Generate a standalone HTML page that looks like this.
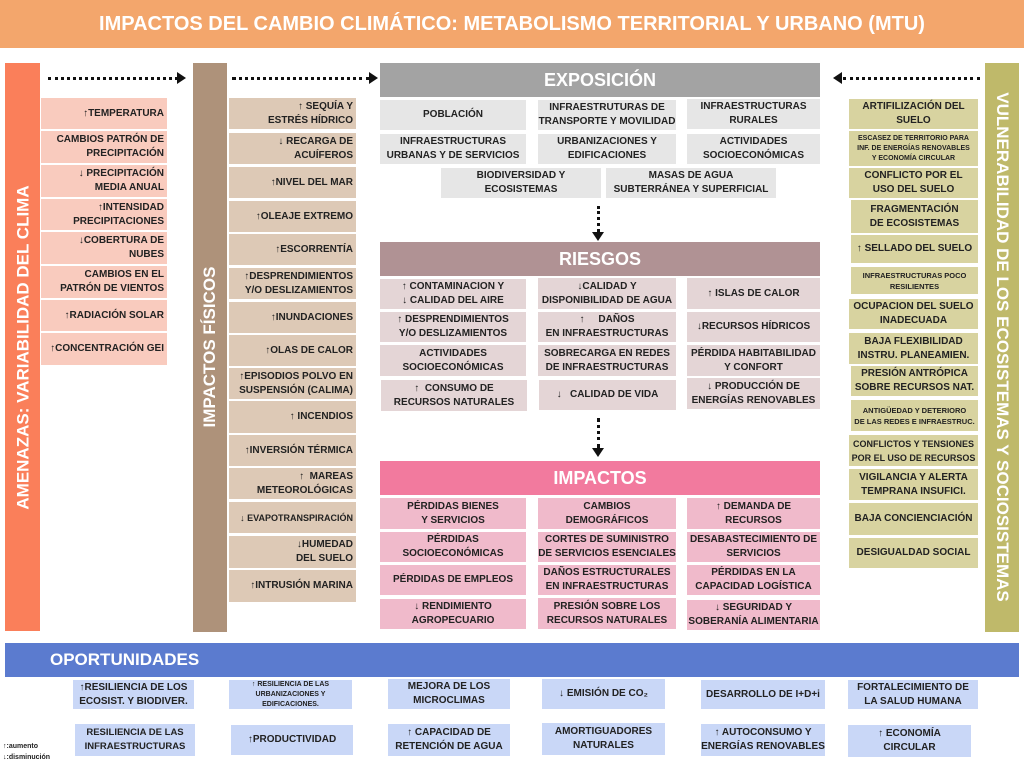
<!DOCTYPE html>
<html><head><meta charset="utf-8"><style>
*{margin:0;padding:0;box-sizing:border-box}
body{width:1024px;height:768px;background:#fff;position:relative;overflow:hidden;font-family:"Liberation Sans",sans-serif;font-weight:bold;color:#222}
.a{position:absolute}
.b{position:absolute;display:flex;align-items:center;justify-content:center;text-align:center;font-size:10px;line-height:14px;padding:0 1px;white-space:nowrap;overflow:visible}
.r{justify-content:flex-end;text-align:right;padding-right:3px}
.l1{background:#F9CBBE}.l2{background:#DDC9B6}.ex{background:#E6E6E6}.ri{background:#E4D5D6}.im{background:#F0BACB}.vu{background:#D8D3A0}.op{background:#C9D7F7}
.hd{position:absolute;display:flex;align-items:center;justify-content:center;color:#fff;font-size:18px}
.vt{position:absolute;color:#fff;font-size:17px;white-space:nowrap;display:flex;align-items:center;justify-content:center}
.dh{position:absolute;border-top:3px dotted #111;height:0}
.dv{position:absolute;border-left:3px dotted #111;width:0}
</style></head><body>
<div class="hd" style="left:0;top:0;width:1024px;height:48px;background:#F3A66C;font-size:20px">IMPACTOS DEL CAMBIO CLIMÁTICO: METABOLISMO TERRITORIAL Y URBANO (MTU)</div>

<div class="a" style="left:5px;top:63px;width:35px;height:568px;background:#FA7F5A"></div>
<div class="vt" style="left:-261px;top:330px;width:568px;height:35px;transform:rotate(-90deg)">AMENAZAS: VARIABILIDAD DEL CLIMA</div>
<div class="b l1 r" style="left:41px;top:98px;width:126px;height:31px">↑TEMPERATURA</div>
<div class="b l1 r" style="left:41px;top:131px;width:126px;height:32px">CAMBIOS PATRÓN DE<br>PRECIPITACIÓN</div>
<div class="b l1 r" style="left:41px;top:165px;width:126px;height:32px">↓ PRECIPITACIÓN<br>MEDIA ANUAL</div>
<div class="b l1 r" style="left:41px;top:199px;width:126px;height:31px">↑INTENSIDAD<br>PRECIPITACIONES</div>
<div class="b l1 r" style="left:41px;top:232px;width:126px;height:32px">↓COBERTURA DE<br>NUBES</div>
<div class="b l1 r" style="left:41px;top:266px;width:126px;height:32px">CAMBIOS EN EL<br>PATRÓN DE VIENTOS</div>
<div class="b l1 r" style="left:41px;top:300px;width:126px;height:31px">↑RADIACIÓN SOLAR</div>
<div class="b l1 r" style="left:41px;top:333px;width:126px;height:32px">↑CONCENTRACIÓN GEI</div>

<div class="dh" style="left:48px;top:77px;width:130px"></div>
<div class="a" style="left:177px;top:72px;border-left:9px solid #111;border-top:6px solid transparent;border-bottom:6px solid transparent"></div>

<div class="a" style="left:193px;top:63px;width:34px;height:569px;background:#AE927A"></div>
<div class="vt" style="left:-74px;top:330px;width:568px;height:34px;transform:rotate(-90deg)">IMPACTOS FÍSICOS</div>
<div class="b l2 r" style="left:229px;top:98px;width:127px;height:31px">↑ SEQUÍA Y<br>ESTRÉS HÍDRICO</div>
<div class="b l2 r" style="left:229px;top:133px;width:127px;height:31px">↓ RECARGA DE<br>ACUÍFEROS</div>
<div class="b l2 r" style="left:229px;top:167px;width:127px;height:31px">↑NIVEL DEL MAR</div>
<div class="b l2 r" style="left:229px;top:201px;width:127px;height:31px">↑OLEAJE EXTREMO</div>
<div class="b l2 r" style="left:229px;top:234px;width:127px;height:31px">↑ESCORRENTÍA</div>
<div class="b l2 r" style="left:229px;top:268px;width:127px;height:31px">↑DESPRENDIMIENTOS<br>Y/O DESLIZAMIENTOS</div>
<div class="b l2 r" style="left:229px;top:302px;width:127px;height:31px">↑INUNDACIONES</div>
<div class="b l2 r" style="left:229px;top:335px;width:127px;height:31px">↑OLAS DE CALOR</div>
<div class="b l2 r" style="left:229px;top:368px;width:127px;height:31px">↑EPISODIOS POLVO EN<br>SUSPENSIÓN (CALIMA)</div>
<div class="b l2 r" style="left:229px;top:401px;width:127px;height:32px">↑ INCENDIOS</div>
<div class="b l2 r" style="left:229px;top:435px;width:127px;height:31px">↑INVERSIÓN TÉRMICA</div>
<div class="b l2 r" style="left:229px;top:468px;width:127px;height:31px">↑ &nbsp;MAREAS<br>METEOROLÓGICAS</div>
<div class="b l2 r" style="left:229px;top:502px;width:127px;height:31px;font-size:9px">↓ EVAPOTRANSPIRACIÓN</div>
<div class="b l2 r" style="left:229px;top:536px;width:127px;height:32px">↓HUMEDAD<br>DEL SUELO</div>
<div class="b l2 r" style="left:229px;top:570px;width:127px;height:32px">↑INTRUSIÓN MARINA</div>

<div class="dh" style="left:232px;top:77px;width:138px"></div>
<div class="a" style="left:369px;top:72px;border-left:9px solid #111;border-top:6px solid transparent;border-bottom:6px solid transparent"></div>

<div class="hd" style="left:380px;top:63px;width:440px;height:34px;background:#A3A3A3">EXPOSICIÓN</div>
<div class="b ex" style="left:380px;top:100px;width:146px;height:30px">POBLACIÓN</div>
<div class="b ex" style="left:538px;top:100px;width:138px;height:30px">INFRAESTRUTURAS DE<br>TRANSPORTE Y MOVILIDAD</div>
<div class="b ex" style="left:687px;top:99px;width:133px;height:30px">INFRAESTRUCTURAS<br>RURALES</div>
<div class="b ex" style="left:380px;top:134px;width:146px;height:30px">INFRAESTRUCTURAS<br>URBANAS Y DE SERVICIOS</div>
<div class="b ex" style="left:538px;top:134px;width:138px;height:30px">URBANIZACIONES Y<br>EDIFICACIONES</div>
<div class="b ex" style="left:687px;top:134px;width:133px;height:30px">ACTIVIDADES<br>SOCIOECONÓMICAS</div>
<div class="b ex" style="left:441px;top:168px;width:160px;height:30px">BIODIVERSIDAD Y<br>ECOSISTEMAS</div>
<div class="b ex" style="left:606px;top:168px;width:170px;height:30px">MASAS DE AGUA<br>SUBTERRÁNEA Y SUPERFICIAL</div>
<div class="dv" style="left:597px;top:206px;height:26px"></div>
<div class="a" style="left:592px;top:232px;border-top:9px solid #111;border-left:6px solid transparent;border-right:6px solid transparent"></div>

<div class="hd" style="left:380px;top:242px;width:440px;height:34px;background:#B09294">RIESGOS</div>
<div class="b ri" style="left:380px;top:279px;width:146px;height:30px">↑ CONTAMINACION Y<br>↓ CALIDAD DEL AIRE</div>
<div class="b ri" style="left:538px;top:278px;width:138px;height:31px">↓CALIDAD Y<br>DISPONIBILIDAD DE AGUA</div>
<div class="b ri" style="left:687px;top:278px;width:133px;height:31px">↑ ISLAS DE CALOR</div>
<div class="b ri" style="left:380px;top:312px;width:146px;height:30px">↑ DESPRENDIMIENTOS<br>Y/O DESLIZAMIENTOS</div>
<div class="b ri" style="left:538px;top:312px;width:138px;height:30px">↑ &nbsp;&nbsp;&nbsp;&nbsp;DAÑOS<br>EN INFRAESTRUCTURAS</div>
<div class="b ri" style="left:687px;top:312px;width:133px;height:30px">↓RECURSOS HÍDRICOS</div>
<div class="b ri" style="left:380px;top:345px;width:146px;height:31px">ACTIVIDADES<br>SOCIOECONÓMICAS</div>
<div class="b ri" style="left:538px;top:345px;width:138px;height:31px">SOBRECARGA EN REDES<br>DE INFRAESTRUCTURAS</div>
<div class="b ri" style="left:687px;top:345px;width:133px;height:31px">PÉRDIDA HABITABILIDAD<br>Y CONFORT</div>
<div class="b ri" style="left:381px;top:380px;width:146px;height:31px">↑ &nbsp;CONSUMO DE<br>RECURSOS NATURALES</div>
<div class="b ri" style="left:539px;top:380px;width:137px;height:30px">↓ &nbsp;&nbsp;CALIDAD DE VIDA</div>
<div class="b ri" style="left:687px;top:378px;width:133px;height:31px">↓ PRODUCCIÓN DE<br>ENERGÍAS RENOVABLES</div>
<div class="dv" style="left:597px;top:418px;height:30px"></div>
<div class="a" style="left:592px;top:448px;border-top:9px solid #111;border-left:6px solid transparent;border-right:6px solid transparent"></div>

<div class="hd" style="left:380px;top:461px;width:440px;height:34px;background:#F27A9E">IMPACTOS</div>
<div class="b im" style="left:380px;top:498px;width:146px;height:31px">PÉRDIDAS BIENES<br>Y SERVICIOS</div>
<div class="b im" style="left:538px;top:498px;width:138px;height:31px">CAMBIOS<br>DEMOGRÁFICOS</div>
<div class="b im" style="left:687px;top:498px;width:133px;height:31px">↑ DEMANDA DE<br>RECURSOS</div>
<div class="b im" style="left:380px;top:532px;width:146px;height:30px">PÉRDIDAS<br>SOCIOECONÓMICAS</div>
<div class="b im" style="left:538px;top:532px;width:138px;height:30px">CORTES DE SUMINISTRO<br>DE SERVICIOS ESENCIALES</div>
<div class="b im" style="left:687px;top:532px;width:133px;height:30px">DESABASTECIMIENTO DE<br>SERVICIOS</div>
<div class="b im" style="left:380px;top:565px;width:146px;height:30px">PÉRDIDAS DE EMPLEOS</div>
<div class="b im" style="left:538px;top:565px;width:138px;height:30px">DAÑOS ESTRUCTURALES<br>EN INFRAESTRUCTURAS</div>
<div class="b im" style="left:687px;top:565px;width:133px;height:30px">PÉRDIDAS EN LA<br>CAPACIDAD LOGÍSTICA</div>
<div class="b im" style="left:380px;top:599px;width:146px;height:30px">↓ RENDIMIENTO<br>AGROPECUARIO</div>
<div class="b im" style="left:538px;top:598px;width:138px;height:31px">PRESIÓN SOBRE LOS<br>RECURSOS NATURALES</div>
<div class="b im" style="left:687px;top:600px;width:133px;height:30px">↓ SEGURIDAD Y<br>SOBERANÍA ALIMENTARIA</div>

<div class="a" style="left:985px;top:63px;width:34px;height:569px;background:#BFB96A"></div>
<div class="vt" style="left:718px;top:330px;width:568px;height:34px;transform:rotate(90deg)">VULNERABILIDAD DE LOS ECOSISTEMAS Y SOCIOSISTEMAS</div>
<div class="a" style="left:833px;top:72px;border-right:9px solid #111;border-top:6px solid transparent;border-bottom:6px solid transparent"></div>
<div class="dh" style="left:843px;top:77px;width:137px"></div>
<div class="b vu" style="left:849px;top:99px;width:129px;height:30px">ARTIFILIZACIÓN DEL<br>SUELO</div>
<div class="b vu" style="left:849px;top:131px;width:129px;height:35px;font-size:7px;line-height:10px">ESCASEZ DE TERRITORIO PARA<br>INF. DE ENERGÍAS RENOVABLES<br>Y ECONOMÍA CIRCULAR</div>
<div class="b vu" style="left:849px;top:168px;width:129px;height:30px">CONFLICTO POR EL<br>USO DEL SUELO</div>
<div class="b vu" style="left:851px;top:200px;width:127px;height:33px">FRAGMENTACIÓN<br>DE ECOSISTEMAS</div>
<div class="b vu" style="left:851px;top:235px;width:127px;height:28px">↑ SELLADO DEL SUELO</div>
<div class="b vu" style="left:851px;top:267px;width:127px;height:27px;font-size:7.5px;line-height:11px">INFRAESTRUCTURAS POCO<br>RESILIENTES</div>
<div class="b vu" style="left:849px;top:299px;width:129px;height:30px">OCUPACION DEL SUELO<br>INADECUADA</div>
<div class="b vu" style="left:849px;top:333px;width:129px;height:31px">BAJA FLEXIBILIDAD<br>INSTRU. PLANEAMIEN.</div>
<div class="b vu" style="left:851px;top:366px;width:127px;height:30px">PRESIÓN ANTRÓPICA<br>SOBRE RECURSOS NAT.</div>
<div class="b vu" style="left:851px;top:400px;width:127px;height:31px;font-size:7.5px;line-height:11px">ANTIGÜEDAD Y DETERIORO<br>DE LAS REDES E INFRAESTRUC.</div>
<div class="b vu" style="left:849px;top:435px;width:129px;height:31px;font-size:9px">CONFLICTOS Y TENSIONES<br>POR EL USO DE RECURSOS</div>
<div class="b vu" style="left:849px;top:469px;width:129px;height:31px">VIGILANCIA Y ALERTA<br>TEMPRANA INSUFICI.</div>
<div class="b vu" style="left:849px;top:503px;width:129px;height:32px">BAJA CONCIENCIACIÓN</div>
<div class="b vu" style="left:849px;top:538px;width:129px;height:30px">DESIGUALDAD SOCIAL</div>

<div class="a" style="left:5px;top:643px;width:1014px;height:34px;background:#5B7BCF;color:#fff;font-size:17px;line-height:34px;padding-left:45px">OPORTUNIDADES</div>
<div class="b op" style="left:73px;top:680px;width:121px;height:29px">↑RESILIENCIA DE LOS<br>ECOSIST. Y BIODIVER.</div>
<div class="b op" style="left:229px;top:680px;width:123px;height:29px;font-size:7px;line-height:10px">↑ RESILIENCIA DE LAS<br>URBANIZACIONES Y<br>EDIFICACIONES.</div>
<div class="b op" style="left:388px;top:679px;width:122px;height:30px">MEJORA DE LOS<br>MICROCLIMAS</div>
<div class="b op" style="left:542px;top:679px;width:123px;height:30px">↓ EMISIÓN DE CO₂</div>
<div class="b op" style="left:701px;top:680px;width:124px;height:29px">DESARROLLO DE I+D+i</div>
<div class="b op" style="left:848px;top:680px;width:130px;height:29px">FORTALECIMIENTO DE<br>LA SALUD HUMANA</div>
<div class="b op" style="left:75px;top:724px;width:120px;height:32px;font-size:9.5px">RESILIENCIA DE LAS<br>INFRAESTRUCTURAS</div>
<div class="b op" style="left:231px;top:725px;width:122px;height:30px">↑PRODUCTIVIDAD</div>
<div class="b op" style="left:388px;top:724px;width:122px;height:32px">↑ CAPACIDAD DE<br>RETENCIÓN DE AGUA</div>
<div class="b op" style="left:542px;top:723px;width:123px;height:32px">AMORTIGUADORES<br>NATURALES</div>
<div class="b op" style="left:701px;top:724px;width:124px;height:32px">↑ AUTOCONSUMO Y<br>ENERGÍAS RENOVABLES</div>
<div class="b op" style="left:848px;top:725px;width:123px;height:32px">↑ ECONOMÍA<br>CIRCULAR</div>
<div class="a" style="left:3px;top:741px;font-size:7px;line-height:11px">↑:aumento<br>↓:disminución</div>
</body></html>
